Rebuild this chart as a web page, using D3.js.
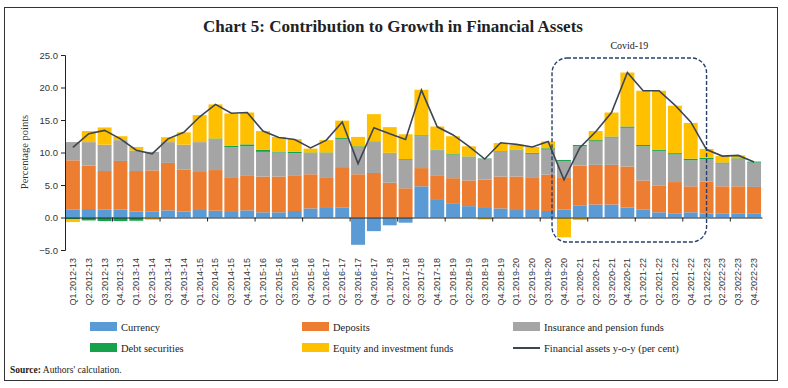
<!DOCTYPE html>
<html>
<head>
<meta charset="utf-8">
<script src="https://cdn.jsdelivr.net/npm/d3@7"></script>
<style>
  body { margin: 0; background: #fff; }
  svg { display: block; }
  .tick text { fill: #333; }
</style>
</head>
<body>
<div id="chart"></div>
<script>
var svgWidth = 788;
var svgHeight = 388;

// quarters
var quarters = [];
for (var yr = 2012; yr <= 2022; yr++) {
  for (var q = 1; q <= 4; q++) {
    quarters.push("Q" + q + "." + yr + "-" + String(yr + 1).slice(2));
  }
}

// contributions (percentage points)
var currency = [1.2, 1.3, 1.2, 1.2, 0.9, 0.95, 1.1, 0.9, 1.15, 1.05, 0.85,
  1.1, 0.8, 0.8, 1.0, 1.4, 1.6, 1.5, -4.2, -2.1, -1.2, -0.8,
  4.8, 2.7, 2.1, 1.75, 1.6, 1.4, 1.15, 1.15, 1.0, 1.25,
  1.8, 2.0, 2.0, 1.55, 1.2, 0.8, 0.65, 0.8, 0.6, 0.65, 0.65, 0.65];
var deposits = [7.6, 6.7, 5.95, 7.5, 6.25, 6.3, 7.3, 6.5, 5.85, 6.25, 5.35,
  5.4, 5.5, 5.5, 5.5, 5.25, 4.6, 6.25, 6.65, 6.85, 5.35, 4.5,
  2.8, 3.8, 3.95, 3.95, 4.25, 4.9, 5.15, 5.05, 5.6, 4.95,
  6.2, 6.1, 6.1, 6.3, 4.5, 4.15, 4.8, 4.0, 4.9, 4.15, 4.15, 4.05];
var insurance = [2.8, 3.6, 4.05, 3.2, 3.15, 2.85, 3.2, 3.8, 4.6, 4.75, 4.6,
  4.45, 3.8, 3.7, 3.4, 3.25, 3.7, 4.35, 4.2, 4.75, 4.55, 4.4,
  4.9, 3.85, 3.6, 3.65, 3.2, 3.8, 4.05, 3.6, 3.85, 2.5,
  2.95, 3.6, 4.2, 5.95, 5.25, 5.3, 4.25, 4.0, 3.5, 3.5, 4.2, 3.75];
var debt = [-0.3, -0.45, -0.55, -0.55, -0.5, 0.0, 0.0, 0.0, 0.0, 0.1, 0.25,
  0.3, 0.3, 0.15, 0.2, 0.1, 0.1, 0.2, 0.1, 0.1, 0.05, 0.1,
  0.15, 0.05, 0.1, 0.05, 0.05, 0.1, 0.1, 0.15, 0.2, 0.15,
  0.2, 0.2, 0.15, 0.2, 0.2, 0.2, 0.2, 0.25, 0.2, 0.15, 0.1, 0.15];
var equity = [-0.4, 1.7, 2.65, 0.6, 0.55, -0.35, 0.75, 1.9, 4.15, 5.25, 4.95,
  4.9, 2.9, 2.25, 1.95, 0.6, 1.9, 2.6, 1.45, 4.2, 3.95, 3.8,
  7.0, 3.6, 2.75, 1.55, -0.3, 1.25, 0.75, 0.9, 1.05, -3.05,
  -0.4, 1.4, 3.7, 8.3, 8.35, 9.05, 7.3, 5.5, 1.35, 1.0, 0.45, -0.1];
// financial assets y-o-y growth (per cent)
var growth = [10.8, 12.9, 13.4, 12.1, 10.35, 9.8, 12.1, 13.1, 15.5, 17.4, 16.05,
  16.15, 13.3, 12.3, 12.0, 10.7, 11.9, 14.7, 8.3, 13.8, 12.9, 12.0,
  19.6, 13.95, 12.7, 10.95, 9.0, 11.5, 11.25, 10.85, 11.7, 5.8,
  10.75, 13.2, 16.15, 22.3, 19.5, 19.5, 17.3, 14.7, 10.45, 9.45, 9.55, 8.55];

var yTicks = [-5, 0, 5, 10, 15, 20, 25];

var seriesNames = ["Currency", "Deposits", "Insurance and pension funds",
  "Debt securities", "Equity and investment funds"];
var seriesKeys = ["currency", "deposits", "insurance", "debt", "equity"];
var colors = ["#5b9bd5", "#ed7d31", "#a5a5a5", "#15a24a", "#ffc000"];
var lineColor = "#3d4552";

var serif = "'Liberation Serif', 'DejaVu Serif', serif";
var sans = "'Liberation Sans', Arial, sans-serif";

var margin = { top: 55, right: 26, bottom: 138, left: 65 };
var width = 762 - margin.left;
var height = 250 - margin.top;

var svg = d3.select("#chart").append("svg")
  .attr("width", svgWidth)
  .attr("height", svgHeight);

// frame
svg.append("rect")
  .attr("x", 4.5).attr("y", 7.5)
  .attr("width", 773).attr("height", 373)
  .attr("fill", "none")
  .attr("stroke", "#333")
  .attr("stroke-width", 1);

// title
svg.append("text")
  .attr("x", 393).attr("y", 32)
  .attr("text-anchor", "middle")
  .attr("font-family", serif)
  .attr("font-size", "17px")
  .attr("font-weight", "bold")
  .attr("fill", "#222")
  .text("Chart 5: Contribution to Growth in Financial Assets");

var chartGroup = svg.append("g")
  .attr("transform", `translate(${margin.left}, ${margin.top})`);

// build the table for the stack
var table = quarters.map(function(q, i) {
  return {
    quarter: q,
    currency: currency[i],
    deposits: deposits[i],
    insurance: insurance[i],
    debt: debt[i],
    equity: equity[i]
  };
});

var xScale = d3.scaleBand()
  .domain(quarters)
  .range([0, width])
  .paddingInner(0.12)
  .paddingOuter(0.06);

var yScale = d3.scaleLinear()
  .domain([-5, 25])
  .range([height, 0]);

var stacked = d3.stack()
  .keys(seriesKeys)
  .offset(d3.stackOffsetDiverging)(table);

// bars
chartGroup.selectAll("g.layer")
  .data(stacked)
  .enter()
  .append("g")
  .attr("class", "layer")
  .attr("fill", (d, i) => colors[i])
  .selectAll("rect")
  .data(d => d)
  .enter()
  .append("rect")
  .attr("x", d => xScale(d.data.quarter))
  .attr("width", xScale.bandwidth())
  .attr("y", d => yScale(Math.max(d[0], d[1])))
  .attr("height", d => Math.abs(yScale(d[0]) - yScale(d[1])));

// y axis
var leftAxis = d3.axisLeft(yScale)
  .tickValues(yTicks)
  .tickFormat(d3.format(".1f"))
  .tickSize(4)
  .tickPadding(3);

var yAxis = chartGroup.append("g").call(leftAxis);
yAxis.select(".domain").attr("stroke", "#222");
yAxis.selectAll(".tick line").attr("stroke", "#222");
yAxis.selectAll("text")
  .attr("font-family", sans)
  .attr("font-size", "9.5px");

// x axis at zero
var bottomAxis = d3.axisBottom(xScale)
  .tickValues([])
  .tickSizeOuter(0);

var xAxis = chartGroup.append("g")
  .attr("transform", `translate(0, ${yScale(0)})`)
  .call(bottomAxis);
xAxis.select(".domain").attr("stroke", "#222").attr("stroke-width", 1.2);

// tick marks every third quarter
var step = xScale.step();
xAxis.selectAll("line.qtick")
  .data(d3.range(3, quarters.length, 3))
  .enter()
  .append("line")
  .attr("class", "qtick")
  .attr("x1", d => xScale(quarters[d]) - step * xScale.paddingInner() / 2)
  .attr("x2", d => xScale(quarters[d]) - step * xScale.paddingInner() / 2)
  .attr("y1", 0).attr("y2", 4)
  .attr("stroke", "#222");

// x labels
chartGroup.selectAll("text.xlab")
  .data(quarters)
  .enter()
  .append("text")
  .attr("class", "xlab")
  .attr("transform", d => `translate(${xScale(d) + xScale.bandwidth() / 2 + 3}, ${height + 8}) rotate(-90)`)
  .attr("text-anchor", "end")
  .attr("font-family", sans)
  .attr("font-size", "9px")
  .attr("fill", "#333")
  .text(d => d);

// growth line
var line = d3.line()
  .x((d, i) => xScale(quarters[i]) + xScale.bandwidth() / 2)
  .y(d => yScale(d));

chartGroup.append("path")
  .datum(growth)
  .attr("d", line)
  .attr("fill", "none")
  .attr("stroke", lineColor)
  .attr("stroke-width", 1.6);

// y axis title
svg.append("text")
  .attr("transform", "translate(28, 152) rotate(-90)")
  .attr("text-anchor", "middle")
  .attr("font-family", serif)
  .attr("font-size", "10.5px")
  .attr("fill", "#333")
  .text("Percentage points");

// covid-19 box
var covidStart = quarters.indexOf("Q4.2019-20");
var covidEnd = quarters.indexOf("Q1.2022-23");
var boxX1 = margin.left + xScale(quarters[covidStart]) - 5;
var boxX2 = margin.left + xScale(quarters[covidEnd]) + xScale.bandwidth() / 2;
svg.append("rect")
  .attr("x", boxX1).attr("y", 58)
  .attr("width", boxX2 - boxX1)
  .attr("height", 184)
  .attr("rx", 15).attr("ry", 15)
  .attr("fill", "none")
  .attr("stroke", "#27406b")
  .attr("stroke-width", 1.4)
  .attr("stroke-dasharray", "4,2");

svg.append("text")
  .attr("x", (boxX1 + boxX2) / 2).attr("y", 49)
  .attr("text-anchor", "middle")
  .attr("font-family", serif)
  .attr("font-size", "10px")
  .attr("fill", "#222")
  .text("Covid-19");

// legend
var legendItems = seriesNames.map((n, i) => ({ name: n, color: colors[i], type: "rect" }));
legendItems.push({ name: "Financial assets y-o-y (per cent)", color: lineColor, type: "line" });
var legendX = [90, 302, 513];
var legendY = [327, 348];

var legend = svg.selectAll("g.legend")
  .data(legendItems)
  .enter()
  .append("g")
  .attr("class", "legend")
  .attr("transform", (d, i) => `translate(${legendX[i % 3]}, ${legendY[Math.floor(i / 3)]})`);

legend.filter(d => d.type === "rect")
  .append("rect")
  .attr("x", 0).attr("y", -5)
  .attr("width", 27).attr("height", 9)
  .attr("fill", d => d.color);

legend.filter(d => d.type === "line")
  .append("line")
  .attr("x1", 0).attr("x2", 27)
  .attr("y1", 0).attr("y2", 0)
  .attr("stroke", d => d.color)
  .attr("stroke-width", 2);

legend.append("text")
  .attr("x", 31).attr("y", 4)
  .attr("font-family", serif)
  .attr("font-size", "10.5px")
  .attr("fill", "#222")
  .text(d => d.name);

// source note
var source = svg.append("text")
  .attr("x", 10).attr("y", 373)
  .attr("font-family", serif)
  .attr("font-size", "9.5px")
  .attr("fill", "#222");
source.append("tspan").attr("font-weight", "bold").text("Source:");
source.append("tspan").text(" Authors' calculation.");
</script>
</body>
</html>
